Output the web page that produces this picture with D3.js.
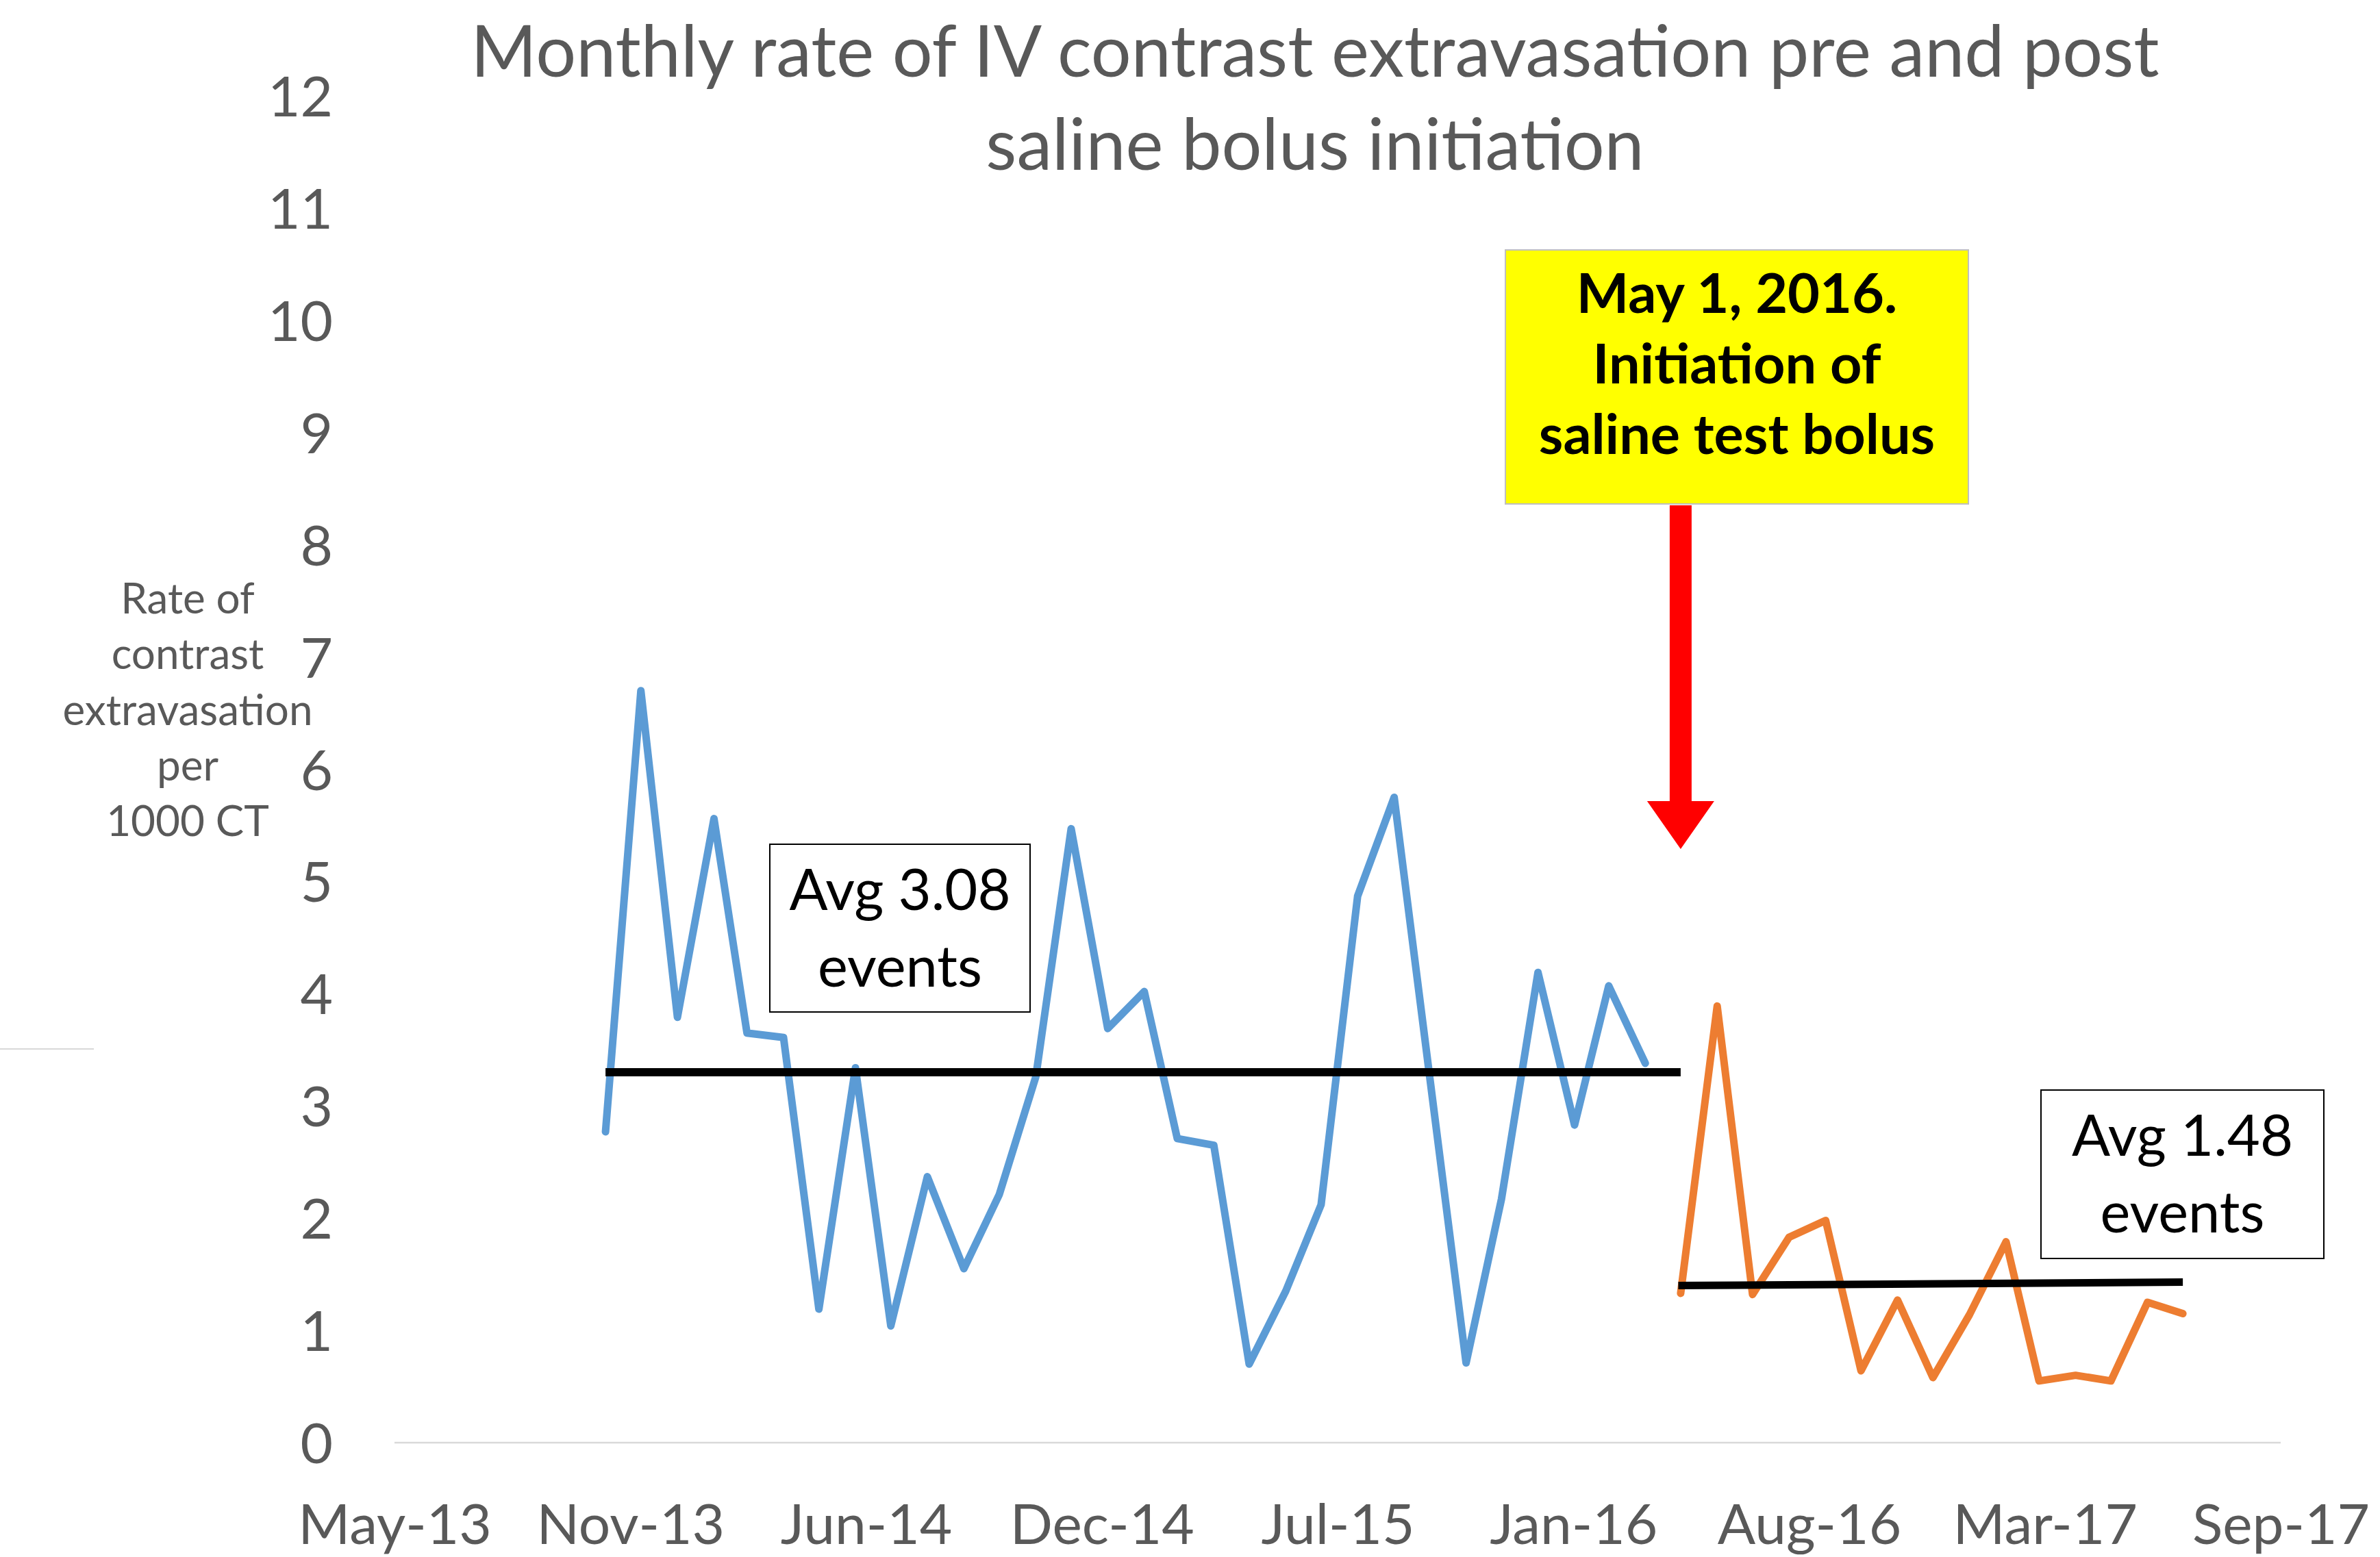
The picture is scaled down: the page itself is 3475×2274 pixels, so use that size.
<!DOCTYPE html>
<html><head><meta charset="utf-8">
<script src="https://cdn.jsdelivr.net/npm/d3@7"></script>
<style>
body{margin:0;background:#fff}
svg{display:block}
text{font-family:Lato,"Open Sans",sans-serif}
</style>
</head><body>
<svg id="chart" width="3475" height="2274"></svg>
<script>
// ---------------- data ----------------
const titleLines = ["Monthly rate of IV contrast extravasation pre and post", "saline bolus initiation"];
const yTitleLines = ["Rate of", "contrast", "extravasation", "per", "1000 CT"];
const yTicks = [0, 1, 2, 3, 4, 5, 6, 7, 8, 9, 10, 11, 12];
const xTickDates = ["2013-05-06", "2013-11-22", "2014-06-10", "2014-12-27", "2015-07-15",
                    "2016-01-31", "2016-08-18", "2017-03-06", "2017-09-22"];
const xTickLabels = ["May-13", "Nov-13", "Jun-14", "Dec-14", "Jul-15", "Jan-16", "Aug-16", "Mar-17", "Sep-17"];

const preMonths = ["2013-11-01", "2013-12-01", "2014-01-01", "2014-02-01", "2014-03-01", "2014-04-01",
                   "2014-05-01", "2014-06-01", "2014-07-01", "2014-08-01", "2014-09-01", "2014-10-01",
                   "2014-11-01", "2014-12-01", "2015-01-01", "2015-02-01", "2015-03-01", "2015-04-01",
                   "2015-05-01", "2015-06-01", "2015-07-01", "2015-08-01", "2015-09-01", "2015-10-01",
                   "2015-11-01", "2015-12-01", "2016-01-01", "2016-02-01", "2016-03-01", "2016-04-01"];
const preValues = [2.77, 6.70, 3.79, 5.56, 3.65, 3.61, 1.19, 3.34, 1.04, 2.37, 1.55, 2.21,
                   3.26, 5.47, 3.69, 4.02, 2.71, 2.65, 0.70, 1.35, 2.12, 4.87, 5.75, 3.27,
                   0.71, 2.17, 4.19, 2.83, 4.07, 3.38];

const postMonths = ["2016-05-01", "2016-06-01", "2016-07-01", "2016-08-01", "2016-09-01", "2016-10-01",
                    "2016-11-01", "2016-12-01", "2017-01-01", "2017-02-01", "2017-03-01", "2017-04-01",
                    "2017-05-01", "2017-06-01", "2017-07-01"];
const postValues = [1.33, 3.89, 1.32, 1.83, 1.98, 0.64, 1.27, 0.58, 1.14, 1.79, 0.55, 0.60, 0.55, 1.25, 1.15];

const preAvgDates = ["2013-11-01", "2016-05-01"];
const preAvgValues = [3.30, 3.30];
const postAvgDates = ["2016-04-29", "2017-07-01"];
const postAvgValues = [1.40, 1.43];

const preAvgLabel = ["Avg 3.08", "events"];
const postAvgLabel = ["Avg 1.48", "events"];
const interventionDate = "2016-05-01";
const interventionLabel = ["May 1, 2016.", "Initiation of", "saline test bolus"];

// ---------------- drawing ----------------
const parse = d3.utcParse("%Y-%m-%d");
const svg = d3.select("#chart");
const grey = "#595959";

const x = d3.scaleUtc()
  .domain([parse(xTickDates[0]), parse(xTickDates[xTickDates.length - 1])])
  .range([576, 3330]);
const y = d3.scaleLinear().domain([0, 12]).range([2107, 140]);

// baseline gridline
svg.append("line")
  .attr("x1", x.range()[0]).attr("x2", x.range()[1])
  .attr("y1", y(0)).attr("y2", y(0))
  .attr("stroke", "#d9d9d9").attr("stroke-width", 2.5);

// stray thin line at left (as in reference)
svg.append("line")
  .attr("x1", 0).attr("x2", 137).attr("y1", 1532).attr("y2", 1532)
  .attr("stroke", "#d9d9d9").attr("stroke-width", 2);

// y axis
const yAxis = svg.append("g")
  .attr("transform", `translate(${x.range()[0]},0)`)
  .call(d3.axisLeft(y).tickValues(yTicks).tickSize(0).tickPadding(90).tickFormat(d3.format("d")));
yAxis.select(".domain").remove();
yAxis.selectAll("text")
  .attr("dy", "0.36em")
  .style("font-family", "Lato")
  .style("font-size", "82px")
  .attr("fill", grey);

// x axis
const xAxis = svg.append("g")
  .attr("transform", `translate(0,${y(0)})`)
  .call(d3.axisBottom(x).tickValues(xTickDates.map(parse)).tickSize(0)
        .tickFormat((d, i) => xTickLabels[i]));
xAxis.select(".domain").remove();
xAxis.selectAll("text")
  .attr("y", 148).attr("dy", 0)
  .style("font-family", "Lato")
  .style("font-size", "82px")
  .attr("fill", grey);

// title
svg.append("g").selectAll("text").data(titleLines).join("text")
  .attr("x", 1920).attr("y", (d, i) => 112 + i * 136)
  .attr("text-anchor", "middle")
  .attr("fill", grey)
  .style("font-size", "104px")
  .text(d => d);

// y axis title
svg.append("g").selectAll("text").data(yTitleLines).join("text")
  .attr("x", 274).attr("y", (d, i) => 896 + i * 81.25)
  .attr("text-anchor", "middle")
  .attr("fill", grey)
  .style("font-size", "62px")
  .text(d => d);

// series lines
const line = d3.line().x(d => x(d[0])).y(d => y(d[1]));
const preData = preMonths.map((m, i) => [parse(m), preValues[i]]);
const postData = postMonths.map((m, i) => [parse(m), postValues[i]]);

svg.append("path").datum(preData)
  .attr("d", line).attr("fill", "none")
  .attr("stroke", "#5B9BD5").attr("stroke-width", 11)
  .attr("stroke-linejoin", "round").attr("stroke-linecap", "round");
svg.append("path").datum(postData)
  .attr("d", line).attr("fill", "none")
  .attr("stroke", "#ED7D31").attr("stroke-width", 11)
  .attr("stroke-linejoin", "round").attr("stroke-linecap", "round");

// average lines
const preAvg = preAvgDates.map((m, i) => [parse(m), preAvgValues[i]]);
const postAvg = postAvgDates.map((m, i) => [parse(m), postAvgValues[i]]);
svg.append("path").datum(preAvg).attr("d", line).attr("fill", "none")
  .attr("stroke", "#000").attr("stroke-width", 12);
svg.append("path").datum(postAvg).attr("d", line).attr("fill", "none")
  .attr("stroke", "#000").attr("stroke-width", 11);

// average label boxes
function labelBox(x0, y0, w, h, lines, firstBaseline, spacing) {
  const g = svg.append("g");
  g.append("rect").attr("x", x0).attr("y", y0).attr("width", w).attr("height", h)
    .attr("fill", "#fff").attr("stroke", "#000").attr("stroke-width", 2);
  g.selectAll("text").data(lines).join("text")
    .attr("x", x0 + w / 2).attr("y", (d, i) => firstBaseline + i * spacing)
    .attr("text-anchor", "middle").attr("fill", "#000")
    .style("font-size", "83px")
    .text(d => d);
}
labelBox(1124, 1233, 380, 245, preAvgLabel, 1329, 112);
labelBox(2980, 1592, 413, 246, postAvgLabel, 1688, 112);

// intervention annotation (yellow box + red arrow)
const ax = x(parse(interventionDate));
const ann = svg.append("g");
ann.append("rect").attr("x", 2198).attr("y", 365).attr("width", 676).attr("height", 371)
  .attr("fill", "#FFFF00").attr("stroke", "#bfbfbf").attr("stroke-width", 2);
ann.selectAll("text").data(interventionLabel).join("text")
  .attr("x", 2536).attr("y", (d, i) => 457 + i * 103)
  .attr("text-anchor", "middle").attr("fill", "#000")
  .style("font-size", "81px").style("font-weight", "bold")
  .text(d => d);
ann.append("path")
  .attr("d", `M${ax - 16},738 L${ax + 16},738 L${ax + 16},1170 L${ax + 49},1170 L${ax},1240 L${ax - 49},1170 L${ax - 16},1170 Z`)
  .attr("fill", "#FF0000");
</script>
</body></html>
